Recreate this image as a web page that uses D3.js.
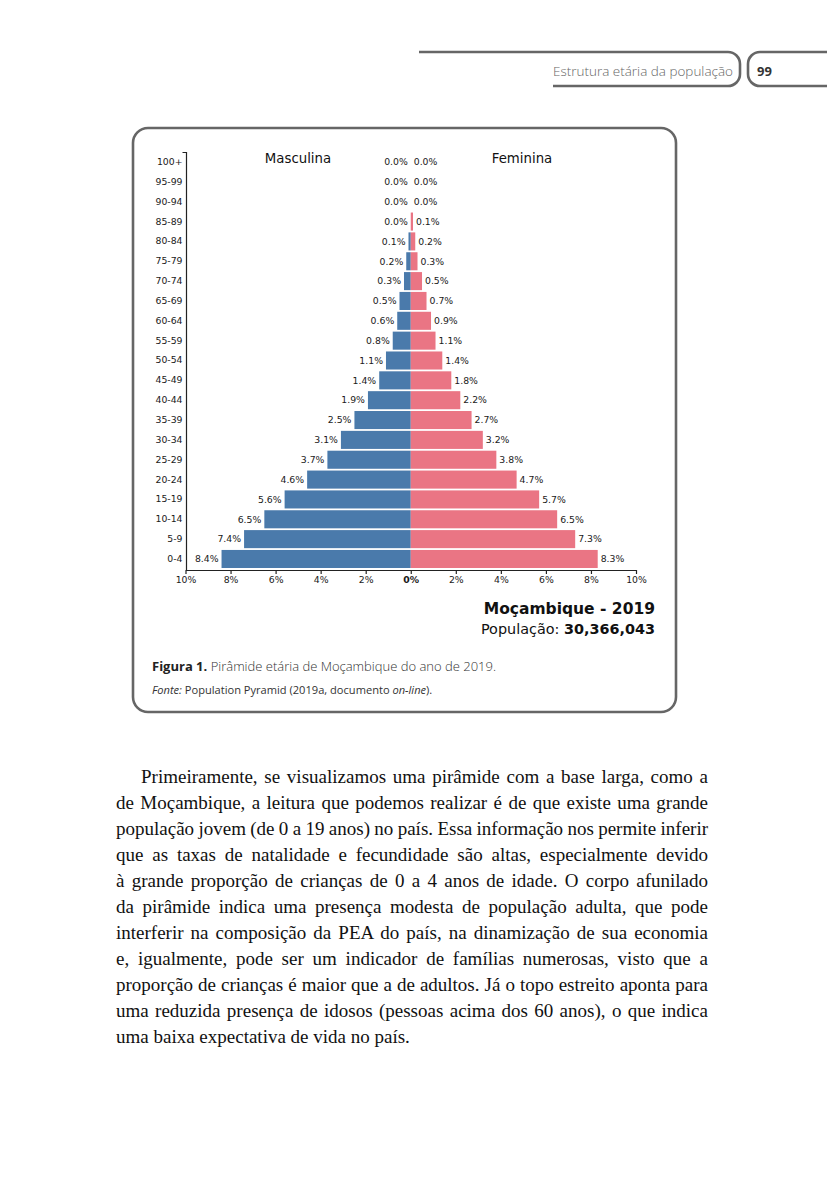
<!DOCTYPE html>
<html><head><meta charset="utf-8">
<script src="https://cdn.jsdelivr.net/npm/d3@7"></script>
<style>html,body{margin:0;padding:0;background:#fff;}svg{display:block;}</style>
</head><body>
<svg id="page" width="827" height="1200"></svg>
<script>
// ---- data ----
const ageGroups = ["100+","95-99","90-94","85-89","80-84","75-79","70-74","65-69","60-64","55-59","50-54","45-49","40-44","35-39","30-34","25-29","20-24","15-19","10-14","5-9","0-4"];
const maleValues   = [0.0,0.0,0.0,0.0,0.1,0.2,0.3,0.5,0.6,0.8,1.1,1.4,1.9,2.5,3.1,3.7,4.6,5.6,6.5,7.4,8.4];
const femaleValues = [0.0,0.0,0.0,0.1,0.2,0.3,0.5,0.7,0.9,1.1,1.4,1.8,2.2,2.7,3.2,3.8,4.7,5.7,6.5,7.3,8.3];
const xTicks = [-10,-8,-6,-4,-2,0,2,4,6,8,10];
const seriesNames = ["Masculina","Feminina"];
const chartTitle = "Moçambique - 2019";
const populationLabel = "População: ";
const populationValue = "30,366,043";
const paragraphLines = [
 "Primeiramente, se visualizamos uma pirâmide com a base larga, como a",
 "de Moçambique, a leitura que podemos realizar é de que existe uma grande",
 "população jovem (de 0 a 19 anos) no país. Essa informação nos permite inferir",
 "que as taxas de natalidade e fecundidade são altas, especialmente devido",
 "à grande proporção de crianças de 0 a 4 anos de idade. O corpo afunilado",
 "da pirâmide indica uma presença modesta de população adulta, que pode",
 "interferir na composição da PEA do país, na dinamização de sua economia",
 "e, igualmente, pode ser um indicador de famílias numerosas, visto que a",
 "proporção de crianças é maior que a de adultos. Já o topo estreito aponta para",
 "uma reduzida presença de idosos (pessoas acima dos 60 anos), o que indica",
 "uma baixa expectativa de vida no país."
];

const svg = d3.select("#page");
const GRAY = "#666";

// ---- running header ----
svg.append("path")
  .attr("d","M419,52 H728 A12,12 0 0 1 740,64 V74 A12,12 0 0 1 728,86 H553")
  .attr("fill","none").attr("stroke",GRAY).attr("stroke-width",2.6);
svg.append("path")
  .attr("d","M830,52 H760 A12,12 0 0 0 748,64 V74 A12,12 0 0 0 760,86 H830")
  .attr("fill","none").attr("stroke",GRAY).attr("stroke-width",2.6);
svg.append("text").attr("x",553).attr("y",76)
  .attr("font-family","'Open Sans', sans-serif").attr("font-size",13.5).attr("font-weight",300)
  .attr("fill","#666").attr("textLength",180).attr("lengthAdjust","spacingAndGlyphs")
  .text("Estrutura etária da população");
svg.append("text").attr("x",757).attr("y",76)
  .attr("font-family","'Open Sans', sans-serif").attr("font-size",13).attr("font-weight",700)
  .attr("fill","#333").text("99");

// ---- card ----
svg.append("rect").attr("x",133).attr("y",128).attr("width",543).attr("height",584)
  .attr("rx",15).attr("ry",15).attr("fill","#fff").attr("stroke",GRAY).attr("stroke-width",2.6);

// ---- chart ----
const FONT = "'DejaVu Sans', sans-serif";
const x = d3.scaleLinear().domain([-10,10]).range([185.5,636]);
const y = d3.scaleBand().domain(ageGroups).range([152,569]).paddingInner(0.09).paddingOuter(0.05);
const g = svg.append("g");
const BLUE = "#4a7aab", PINK = "#ea7584";

const rows = ageGroups.map((a,i)=>({age:a, m:maleValues[i], f:femaleValues[i]}));

g.selectAll("rect.m").data(rows).enter().append("rect")
  .attr("x",d=>x(-d.m)).attr("y",d=>y(d.age))
  .attr("width",d=>x(0)-x(-d.m)).attr("height",y.bandwidth()).attr("fill",BLUE);
g.selectAll("rect.f").data(rows).enter().append("rect")
  .attr("x",x(0)).attr("y",d=>y(d.age))
  .attr("width",d=>x(d.f)-x(0)).attr("height",y.bandwidth()).attr("fill",PINK);

g.selectAll("text.ml").data(rows).enter().append("text")
  .attr("x",d=>x(-d.m)-3).attr("y",d=>y(d.age)+y.bandwidth()/2).attr("dy","0.35em")
  .attr("text-anchor","end").attr("font-family",FONT).attr("font-size",9.3).attr("fill","#1a1a1a")
  .text(d=>d.m.toFixed(1)+"%");
g.selectAll("text.fl").data(rows).enter().append("text")
  .attr("x",d=>x(d.f)+3).attr("y",d=>y(d.age)+y.bandwidth()/2).attr("dy","0.35em")
  .attr("text-anchor","start").attr("font-family",FONT).attr("font-size",9.3).attr("fill","#1a1a1a")
  .text(d=>d.f.toFixed(1)+"%");

// axes
const xAxis = d3.axisBottom(x).tickValues(xTicks).tickSize(4).tickSizeOuter(0).tickPadding(2)
  .tickFormat(d=>Math.abs(d)+"%");
const gx = svg.append("g").attr("transform","translate(0,570)").call(xAxis);
gx.selectAll("text").attr("font-family",FONT).attr("font-size",9.3).attr("fill","#1a1a1a")
  .attr("font-weight",d=>d===0?"bold":"normal");
gx.selectAll("line,path").attr("stroke","#222").attr("stroke-width",1.2);

const yAxis = d3.axisLeft(y).tickSize(0).tickSizeOuter(4).tickPadding(4);
const gy = svg.append("g").attr("transform","translate(186.5,0)").call(yAxis);
gy.select(".domain").attr("d","M-4,152.5H0V570");
gy.selectAll("text").attr("font-family",FONT).attr("font-size",9.3).attr("fill","#1a1a1a");
gy.selectAll("line,path").attr("stroke","#222").attr("stroke-width",1.2);

// series titles
svg.append("text").attr("x",298).attr("y",163).attr("text-anchor","middle")
  .attr("font-family",FONT).attr("font-size",13.3).attr("fill","#111").text(seriesNames[0]);
svg.append("text").attr("x",522).attr("y",163).attr("text-anchor","middle")
  .attr("font-family",FONT).attr("font-size",13.3).attr("fill","#111").text(seriesNames[1]);

// title block
svg.append("text").attr("x",655).attr("y",614).attr("text-anchor","end")
  .attr("font-family",FONT).attr("font-size",15.5).attr("font-weight","bold").attr("fill","#111").text(chartTitle);
const pt = svg.append("text").attr("x",655).attr("y",634).attr("text-anchor","end")
  .attr("font-family",FONT).attr("font-size",14.4).attr("fill","#111");
pt.append("tspan").text(populationLabel);
pt.append("tspan").attr("font-weight","bold").text(populationValue);

// caption
const CAP = "'Open Sans', sans-serif";
const c1 = svg.append("text").attr("x",152).attr("y",671).attr("font-family",CAP).attr("font-size",13).attr("fill","#222");
c1.append("tspan").attr("font-weight",700).text("Figura 1. ");
c1.append("tspan").attr("font-weight",300).attr("fill","#333").text("Pirâmide etária de Moçambique do ano de 2019.");
const c2 = svg.append("text").attr("x",152).attr("y",694).attr("font-family",CAP).attr("font-size",11.1).attr("fill","#333");
c2.append("tspan").attr("font-style","italic").text("Fonte:");
c2.append("tspan").text(" Population Pyramid (2019a, documento ");
c2.append("tspan").attr("font-style","italic").text("on-line");
c2.append("tspan").text(").");

// paragraph (justified)
const left = 116, right = 708, indent = 25;
paragraphLines.forEach((line,i)=>{
  const x0 = left + (i===0?indent:0);
  const t = svg.append("text").attr("x",x0).attr("y",783+26*i)
    .attr("font-family","'Liberation Serif', 'Times New Roman', serif").attr("font-size",19).attr("fill","#111")
    .text(line);
  if (i < paragraphLines.length-1) {
    const w = t.node().getComputedTextLength();
    const n = (line.match(/ /g)||[]).length;
    if (n>0) t.attr("word-spacing", ((right-x0)-w)/n);
  }
});
</script>
</body></html>
